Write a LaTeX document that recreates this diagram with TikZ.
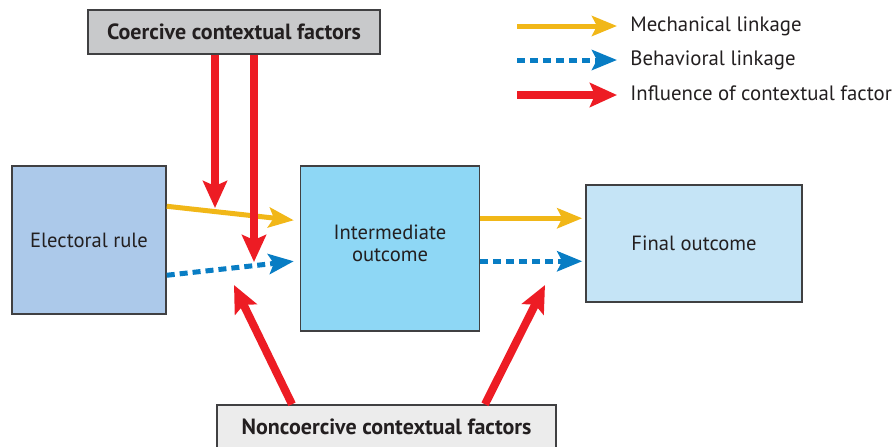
\documentclass[tikz,border=0pt]{standalone}
\usepackage{fontspec}
\setmainfont{PT Sans}
\usepackage{tikz}
\usetikzlibrary{arrows.meta,positioning}

\definecolor{mechyellow}{RGB}{241,183,24}
\definecolor{behavblue}{RGB}{8,125,196}
\definecolor{inflred}{RGB}{237,28,36}
\definecolor{boxline}{RGB}{64,64,66}
\definecolor{textdark}{RGB}{35,31,32}
\definecolor{elecfill}{RGB}{172,201,234}
\definecolor{interfill}{RGB}{142,215,245}
\definecolor{finalfill}{RGB}{197,228,246}
\definecolor{coerfill}{RGB}{200,201,203}
\definecolor{noncofill}{RGB}{236,236,236}

\begin{document}
\begin{tikzpicture}[
    x=0.5pt, y=-0.5pt,
    box/.style={rectangle, draw=boxline, line width=0.75pt, text=textdark,
                align=center, inner sep=0pt, font=\fontsize{10.3}{11}\selectfont},
    factor/.style={box, minimum height=22pt, font=\bfseries\fontsize{11}{12}\selectfont},
    legend/.style={inner sep=0pt, text=textdark, font=\fontsize{10.4}{12}\selectfont},
    mech/.style={-{Stealth[length=12.5pt, width=10pt, inset=2.5pt]}, line width=2.5pt, mechyellow},
    behav/.style={-{Stealth[length=12.5pt, width=10pt, inset=2.5pt]}, line width=2.5pt, behavblue,
                  dash pattern=on 4pt off 2.5pt},
    infl/.style={-{Stealth[length=13.5pt, width=12pt, inset=2.5pt]}, line width=4pt, inflred},
]
\useasboundingbox (0,0) rectangle (893,446);

% boxes
\node[box, fill=elecfill, minimum width=77pt, minimum height=74pt] (elec) at (89,240) {Electoral rule};
\node[box, fill=interfill, minimum width=89.5pt, minimum height=82.5pt, text depth=5pt,
      right=66.5pt of elec.north east, anchor=north west] (inter) {Intermediate\\outcome};
\node[box, fill=finalfill, minimum width=108pt, minimum height=58.5pt,
      right=52.5pt of inter.east, anchor=west, yshift=2.5pt] (final) {Final outcome};
\node[factor, fill=coerfill, minimum width=146pt] (coer) at (234,32) {Coercive contextual factors};
\node[factor, fill=noncofill, minimum width=169.5pt] (nonco) at (386.5,427) {Noncoercive contextual factors};

% legend
\node[legend, anchor=base west] (lgmech) at (630,31) {Mechanical linkage};
\node[legend, anchor=base west] (lgbehav) at (630,65) {Behavioral linkage};
\node[legend, anchor=base west] (lginfl) at (630,100) {Influence of contextual factor};
\draw[mech] ([xshift=-56.5pt]lgmech.mid west) -- ([xshift=-6.5pt]lgmech.mid west);
\draw[behav] ([xshift=-56.5pt]lgbehav.mid west) -- ([xshift=-6.5pt]lgbehav.mid west);
\draw[infl] ([xshift=-56.5pt]lginfl.mid west) -- ([xshift=-6.5pt]lginfl.mid west);

% linkages
\draw[mech] ([yshift=-20.5pt]elec.north east) -- ([xshift=-3pt, yshift=-27.5pt]inter.north west);
\draw[behav] ([yshift=-55pt]elec.north east) -- ([xshift=-3pt, yshift=-48pt]inter.north west);
\draw[mech] ([yshift=-26.5pt]inter.north east) -- ([xshift=-1.5pt, yshift=-17pt]final.north west);
\draw[behav] ([yshift=-48pt]inter.north east) -- ([xshift=-1.5pt, yshift=-38.5pt]final.north west);

% contextual influences
\coordinate (hitmech) at (215,208);
\coordinate (hitbehav) at (254,262);
\coordinate (hitleft) at (234,285);
\coordinate (hitright) at (545,285);
\draw[infl] ([xshift=-9.5pt]coer.south) -- (hitmech);
\draw[infl] ([xshift=10pt]coer.south) -- (hitbehav);
\draw[infl] ([xshift=-47.25pt]nonco.north) -- (hitleft);
\draw[infl] ([xshift=49.25pt]nonco.north) -- (hitright);
\end{tikzpicture}
\end{document}
